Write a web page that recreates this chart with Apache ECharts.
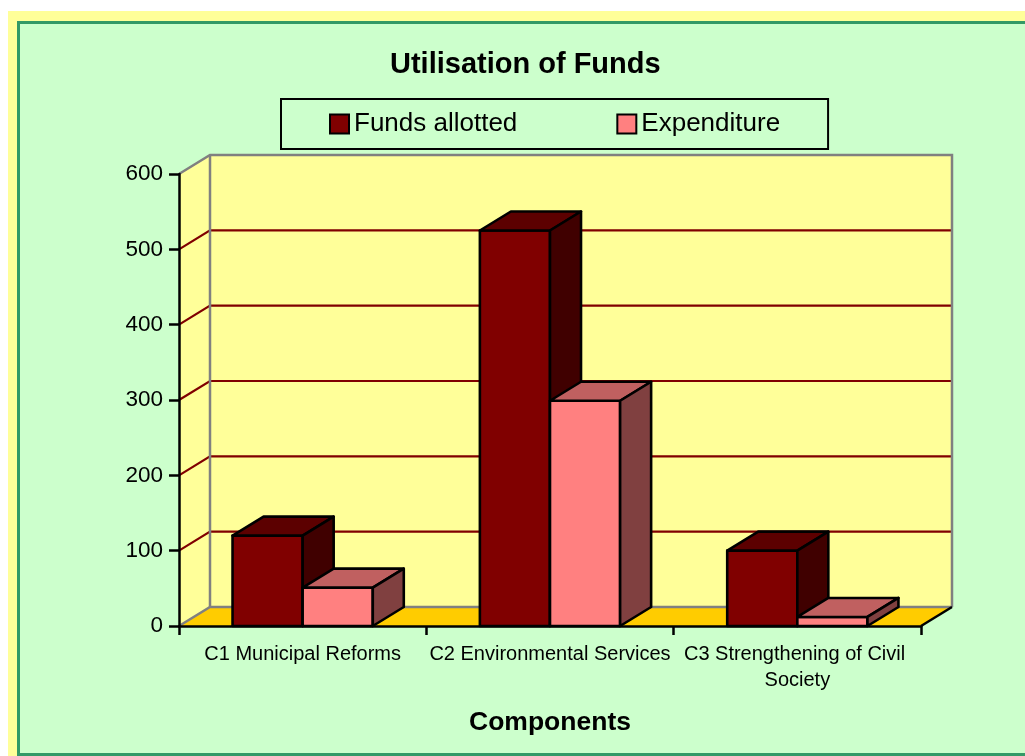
<!DOCTYPE html>
<html>
<head>
<meta charset="utf-8">
<script src="https://cdn.jsdelivr.net/npm/echarts@6/dist/echarts.min.js"></script>
<style>html,body{margin:0;padding:0;background:#fff}#c{width:1025px;height:756px}</style>
</head>
<body>
<div id="c"></div>
<script>
const categories = ['C1 Municipal Reforms', 'C2 Environmental Services', 'C3 Strengthening of Civil Society'];
const fundsAllotted = [120, 525, 100];
const expenditure = [51, 299, 12];
const yTicks = [0, 100, 200, 300, 400, 500, 600];

const FONT = "'Liberation Sans', Arial, sans-serif";
const DX = 31, DY = -19;
const yMax = yTicks[yTicks.length - 1];

function renderWalls(params, api) {
  const cs = params.coordSys;
  const x0 = cs.x, x1 = cs.x + cs.width;
  const yTop = api.coord([0, yMax])[1];
  const yBot = api.coord([0, 0])[1];
  const kids = [];
  kids.push({type: 'polygon', shape: {points: [[x0, yTop], [x0 + DX, yTop + DY], [x0 + DX, yBot + DY], [x0, yBot]]}, style: {fill: '#FFFF99'}});
  kids.push({type: 'rect', shape: {x: x0 + DX, y: yTop + DY, width: x1 - x0, height: yBot - yTop}, style: {fill: '#FFFF99'}});
  kids.push({type: 'polygon', shape: {points: [[x0, yBot], [x1, yBot], [x1 + DX, yBot + DY], [x0 + DX, yBot + DY]]}, style: {fill: '#FFCC00'}});
  yTicks.forEach(function (v) {
    if (v === 0 || v === yMax) return;
    const y = api.coord([0, v])[1];
    kids.push({type: 'polyline', shape: {points: [[x0, y], [x0 + DX, y + DY], [x1 + DX, y + DY]]}, style: {stroke: '#800000', lineWidth: 2.2, fill: null}});
  });
  kids.push({type: 'polyline', shape: {points: [[x0, yTop], [x0 + DX, yTop + DY], [x1 + DX, yTop + DY], [x1 + DX, yBot + DY]]}, style: {stroke: '#808080', lineWidth: 2.5, fill: null}});
  kids.push({type: 'line', shape: {x1: x0 + DX, y1: yTop + DY, x2: x0 + DX, y2: yBot + DY}, style: {stroke: '#808080', lineWidth: 2.5}});
  kids.push({type: 'polyline', shape: {points: [[x0, yBot], [x0 + DX, yBot + DY], [x1 + DX, yBot + DY]]}, style: {stroke: '#808080', lineWidth: 2.5, fill: null}});
  kids.push({type: 'line', shape: {x1: x1, y1: yBot, x2: x1 + DX, y2: yBot + DY}, style: {stroke: '#000', lineWidth: 2.5}});
  return {type: 'group', children: kids};
}

function makeBarRenderer(side, colors) {
  return function (params, api) {
    const idx = api.value(0);
    const top = api.coord([idx, api.value(1)]);
    const base = api.coord([idx, 0]);
    const catW = api.size([1, 0])[0];
    const bw = catW * 0.2835;
    const left = side === 0 ? top[0] - bw : top[0];
    const right = left + bw;
    const yT = top[1], yB = base[1];
    const stroke = {stroke: '#000', lineWidth: 2.6, lineJoin: 'round'};
    return {
      type: 'group',
      children: [
        {type: 'rect', shape: {x: left, y: yT, width: bw, height: yB - yT}, style: Object.assign({fill: colors[0]}, stroke)},
        {type: 'polygon', shape: {points: [[left, yT], [right, yT], [right + DX, yT + DY], [left + DX, yT + DY]]}, style: Object.assign({fill: colors[1]}, stroke)},
        {type: 'polygon', shape: {points: [[right, yT], [right + DX, yT + DY], [right + DX, yB + DY], [right, yB]]}, style: Object.assign({fill: colors[2]}, stroke)}
      ]
    };
  };
}

const chart = echarts.init(document.getElementById('c'), null, {renderer: 'canvas'});
chart.setOption({
  backgroundColor: '#ffffff',
  animation: false,
  graphic: [
    {type: 'rect', z: -100, silent: true, shape: {x: 8, y: 11, width: 1100, height: 800}, style: {fill: '#FFFF99'}},
    {type: 'rect', z: -99, silent: true, shape: {x: 18.5, y: 22.5, width: 1100, height: 732}, style: {fill: '#CCFFCC', stroke: '#339966', lineWidth: 3}}
  ],
  title: {
    text: 'Utilisation of Funds',
    left: 390, top: 50, padding: 0,
    textStyle: {fontSize: 29, fontWeight: 'bold', fontFamily: FONT, color: '#000'}
  },
  legend: {
    data: ['Funds allotted', 'Expenditure'],
    left: 281, top: 99,
    padding: [12, 48, 12, 48],
    itemGap: 99, itemWidth: 19, itemHeight: 19,
    icon: 'rect',
    borderColor: '#000', borderWidth: 2,
    itemStyle: {borderColor: '#000', borderWidth: 2},
    textStyle: {fontSize: 26, fontFamily: FONT, color: '#000'}
  },
  grid: {left: 179, right: 104, top: 174, bottom: 130, containLabel: false},
  xAxis: {
    type: 'category',
    data: categories,
    boundaryGap: true,
    name: 'Components',
    nameLocation: 'middle',
    nameGap: 83,
    nameTextStyle: {fontSize: 26.5, fontWeight: 'bold', fontFamily: FONT, color: '#000'},
    axisLine: {show: true, lineStyle: {color: '#000', width: 2.5}},
    axisTick: {show: true, alignWithLabel: false, length: 9, lineStyle: {color: '#000', width: 2.5}},
    axisLabel: {interval: 0, margin: 15, fontSize: 20, fontFamily: FONT, color: '#000', width: 246, overflow: 'break', lineHeight: 26},
    splitLine: {show: false}
  },
  yAxis: {
    type: 'value',
    min: 0, max: 600, interval: 100,
    axisLine: {show: true, lineStyle: {color: '#000', width: 2.5}},
    axisTick: {show: true, length: 10, lineStyle: {color: '#000', width: 2.5}},
    axisLabel: {margin: 16, fontSize: 22.5, fontFamily: FONT, color: '#000'},
    splitLine: {show: false}
  },
  series: [
    {
      name: 'walls', type: 'custom', z: -1, silent: true,
      renderItem: renderWalls,
      data: [[0, 0]],
      encode: {x: 0, y: 1}
    },
    {
      name: 'Funds allotted', type: 'custom', silent: true,
      itemStyle: {color: '#800000'},
      renderItem: makeBarRenderer(0, ['#800000', '#5C0000', '#400000']),
      data: fundsAllotted.map(function (v, i) { return [i, v]; }),
      encode: {x: 0, y: 1}
    },
    {
      name: 'Expenditure', type: 'custom', silent: true,
      itemStyle: {color: '#FF8080'},
      renderItem: makeBarRenderer(1, ['#FF8080', '#C06060', '#804040']),
      data: expenditure.map(function (v, i) { return [i, v]; }),
      encode: {x: 0, y: 1}
    }
  ]
});
</script>
</body>
</html>
